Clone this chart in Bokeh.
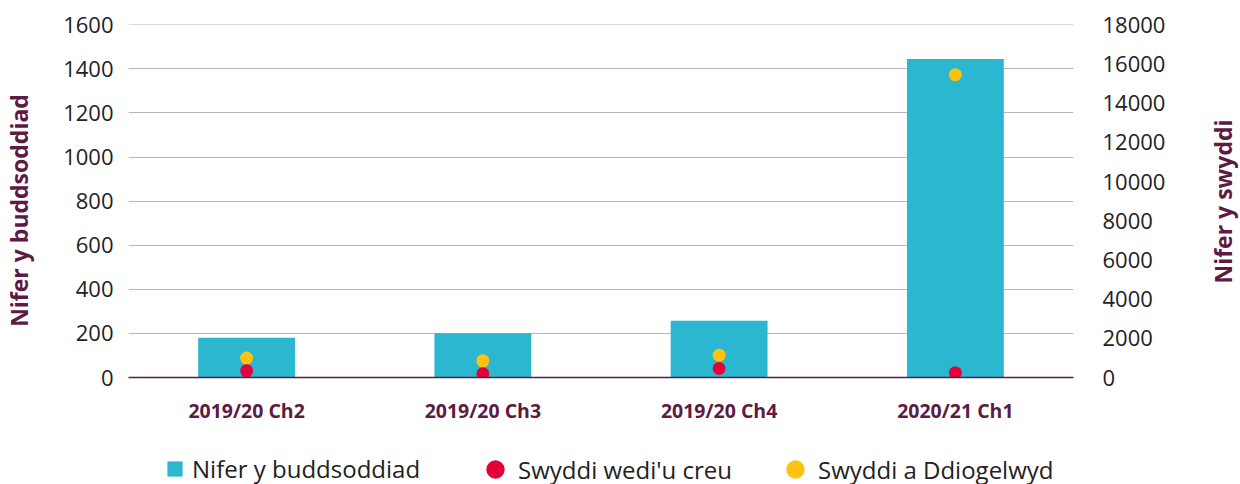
import math
from bokeh.plotting import figure
from bokeh.layouts import column, row
from bokeh.models import (Range1d, LinearAxis, FixedTicker, Legend, LegendItem,
                          ColumnDataSource, FactorRange, Label)
from bokeh.embed import file_html
from bokeh.resources import INLINE

categories = ["2019/20 Ch2", "2019/20 Ch3", "2019/20 Ch4", "2020/21 Ch1"]
investments = [180, 201, 257, 1445]
jobs_created = [340, 190, 460, 240]
jobs_safeguarded = [990, 850, 1140, 15450]

left_ticks = [0, 200, 400, 600, 800, 1000, 1200, 1400, 1600]
right_ticks = [0, 2000, 4000, 6000, 8000, 10000, 12000, 14000, 16000, 18000]
left_title = "Nifer y buddsoddiad"
right_title = "Nifer y swyddi"
legend_labels = ["Nifer y buddsoddiad", "Swyddi wedi'u creu", "Swyddi a Ddiogelwyd"]

BAR = "#2bb7cf"
RED = "#e4003b"
YEL = "#ffc20e"
MAROON = "#5e1a43"
GRID = "#b3b6c6"
FONT = "Open Sans"
H = 484
LW, RW = 36, 38
PW = 1240 - LW - RW

src = ColumnDataSource(dict(cat=categories, inv=investments,
                            cr=jobs_created, sf=jobs_safeguarded))

top_l = 1601
top_r = 18000 * top_l / 1600

p = figure(width=PW, height=430, x_range=FactorRange(*categories, range_padding=0),
           y_range=Range1d(0, top_l), output_backend="svg", toolbar_location=None,
           min_border_left=128 - LW, min_border_right=(1240 - RW) - 1073,
           min_border_top=24, min_border_bottom=53)
p.extra_y_ranges = {"jobs": Range1d(0, top_r)}
p.outline_line_color = None
p.background_fill_color = "white"
p.border_fill_color = "white"

bars = p.vbar(x="cat", top="inv", width=0.41, source=src, color=BAR, line_color=None)
ys = p.scatter(x="cat", y="sf", source=src, y_range_name="jobs", size=13,
               color=YEL, line_color=None)
rs = p.scatter(x="cat", y="cr", source=src, y_range_name="jobs", size=13,
               color=RED, line_color=None)

yl = p.yaxis[0]
yl.ticker = FixedTicker(ticks=left_ticks)
yr = LinearAxis(y_range_name="jobs", ticker=FixedTicker(ticks=right_ticks))
p.add_layout(yr, "right")

for ax in [yl, yr]:
    ax.axis_line_color = None
    ax.major_tick_line_color = None
    ax.minor_tick_line_color = None
    ax.major_label_text_font = FONT
    ax.major_label_text_font_size = "22px"
    ax.major_label_text_color = "#222222"
yl.major_label_standoff = 9
yr.major_label_standoff = 23

xa = p.xaxis[0]
xa.axis_line_color = MAROON
xa.axis_line_width = 1.5
xa.major_tick_line_color = None
xa.minor_tick_line_color = None
xa.major_label_text_font = FONT
xa.major_label_text_font_style = "bold"
xa.major_label_text_font_size = "19.5px"
xa.major_label_text_color = MAROON
xa.major_label_standoff = 13

p.xgrid.grid_line_color = None
p.ygrid.ticker = FixedTicker(ticks=left_ticks[1:])
p.ygrid.grid_line_color = GRID
p.ygrid.grid_line_width = 1

# legend strip
lf = figure(width=PW, height=H - 430, x_range=Range1d(0, 1), y_range=Range1d(0, 1),
            output_backend="svg", toolbar_location=None,
            min_border_left=0, min_border_right=0, min_border_top=0, min_border_bottom=0)
lf.axis.visible = False
lf.grid.visible = False
lf.outline_line_color = None
nan = float("nan")
lb = lf.rect(x=[nan], y=[nan], width=0.1, height=0.1, color=BAR, line_color=None)
lr = lf.scatter(x=[nan], y=[nan], size=19, color=RED, line_color=None)
ly = lf.scatter(x=[nan], y=[nan], size=19, color=YEL, line_color=None)

common = dict(orientation="horizontal", label_height=20, padding=0, margin=0,
              border_line_color=None, background_fill_alpha=0,
              label_text_font=FONT, label_text_font_size="24px",
              label_text_color="#222222")
leg1 = Legend(items=[LegendItem(label=legend_labels[0], renderers=[lb])],
              location=(37, -1), glyph_width=19, glyph_height=19, label_standoff=8, **common)
leg2 = Legend(items=[LegendItem(label=legend_labels[1], renderers=[lr])],
              location=(344, -8), glyph_width=46, glyph_height=46, label_standoff=0, **common)
leg3 = Legend(items=[LegendItem(label=legend_labels[2], renderers=[ly])],
              location=(644, -8), glyph_width=46, glyph_height=46, label_standoff=0, **common)
for lg in (leg1, leg2, leg3):
    lf.add_layout(lg, "center")


def title_strip(width, text, cx, cy):
    f = figure(width=width, height=H, x_range=Range1d(0, width), y_range=Range1d(0, H),
               output_backend="svg", toolbar_location=None,
               min_border_left=0, min_border_right=0, min_border_top=0, min_border_bottom=0)
    f.axis.visible = False
    f.grid.visible = False
    f.outline_line_color = None
    f.add_layout(Label(x=cx, y=H - cy, x_units="screen", y_units="screen", text=text,
                       angle=math.pi / 2, text_align="center", text_baseline="middle",
                       text_font=FONT, text_font_style="bold", text_font_size="23px",
                       text_color=MAROON))
    return f


lt = title_strip(LW, left_title, 18, 210)
rt = title_strip(RW, right_title, 20, 201)

layout = row(lt, column(p, lf), rt)
open("out.html", "w").write(file_html(layout, INLINE))
